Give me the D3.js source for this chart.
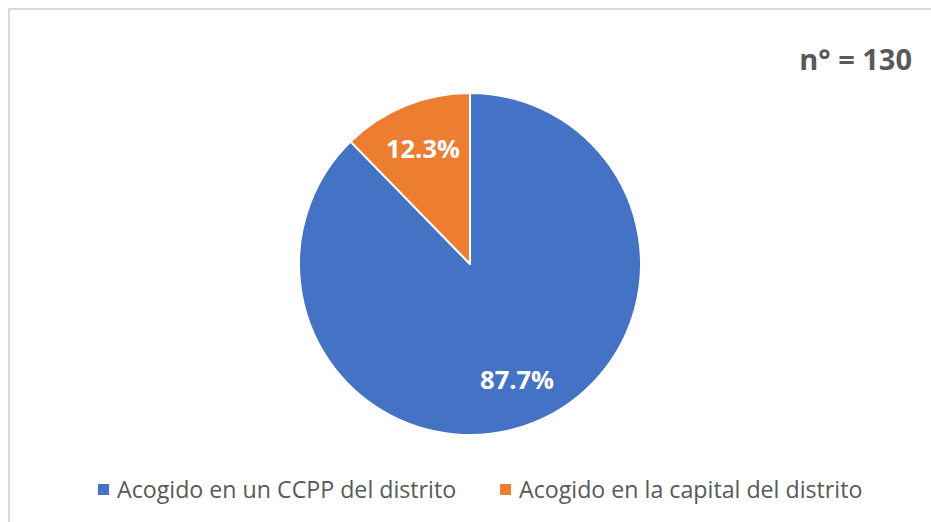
<!DOCTYPE html>
<html><head><meta charset="utf-8">
<script src="https://cdn.jsdelivr.net/npm/d3@7"></script>
<style>html,body{margin:0;padding:0;background:#fff;}svg{display:block;}</style>
</head><body>
<svg id="chart" width="931" height="522"></svg>
<script>
const categories = ["Acogido en un CCPP del distrito", "Acogido en la capital del distrito"];
const values = [87.7, 12.3];
const labels = ["87.7%", "12.3%"];
const colors = ["#4472C4", "#ED7D31"];
const sampleText = "n° = 130";

const W = 931, H = 522;
const svg = d3.select("#chart");
const font = "'Open Sans', 'Liberation Sans', sans-serif";

// border (top/left visible)
svg.append("rect").attr("x", 9).attr("y", 9).attr("width", W + 10).attr("height", H + 10)
  .attr("fill", "#fff").attr("stroke", "#d9d9d9").attr("stroke-width", 2);

const cx = 470, cy = 264, R = 171;
const pie = d3.pie().sort(null).value(d => d);
const arcs = pie(values);
const arc = d3.arc().innerRadius(0).outerRadius(R);
const labelArc = d3.arc().innerRadius(R * 0.73).outerRadius(R * 0.73);

const g = svg.append("g").attr("transform", `translate(${cx},${cy})`);
g.selectAll("path").data(arcs).join("path")
  .attr("d", arc).attr("fill", (d, i) => colors[i])
  .attr("stroke", "#fff").attr("stroke-width", 2).attr("stroke-linejoin", "round");

g.selectAll("text").data(arcs).join("text")
  .attr("transform", d => `translate(${labelArc.centroid(d)})`)
  .attr("text-anchor", "middle").attr("dy", "0.36em")
  .attr("fill", "#fff").attr("font-family", font).attr("font-weight", "bold")
  .attr("font-size", 25.5).text((d, i) => labels[i]);

svg.append("text").attr("x", 912).attr("y", 70).attr("text-anchor", "end")
  .attr("fill", "#595959").attr("font-family", font).attr("font-weight", "bold")
  .attr("font-size", 29).text(sampleText);

// legend
const legendX = d3.scalePoint().domain(categories).range([98, 500]);
const lg = svg.append("g");
const items = lg.selectAll("g").data(categories).join("g")
  .attr("transform", d => `translate(${legendX(d)},484)`);
items.append("rect").attr("width", 11).attr("height", 11).attr("fill", (d, i) => colors[i]);
items.append("text").attr("x", 19).attr("y", 14)
  .attr("fill", "#595959").attr("font-family", font).attr("font-size", 23.2).text(d => d);
</script>
</body></html>
